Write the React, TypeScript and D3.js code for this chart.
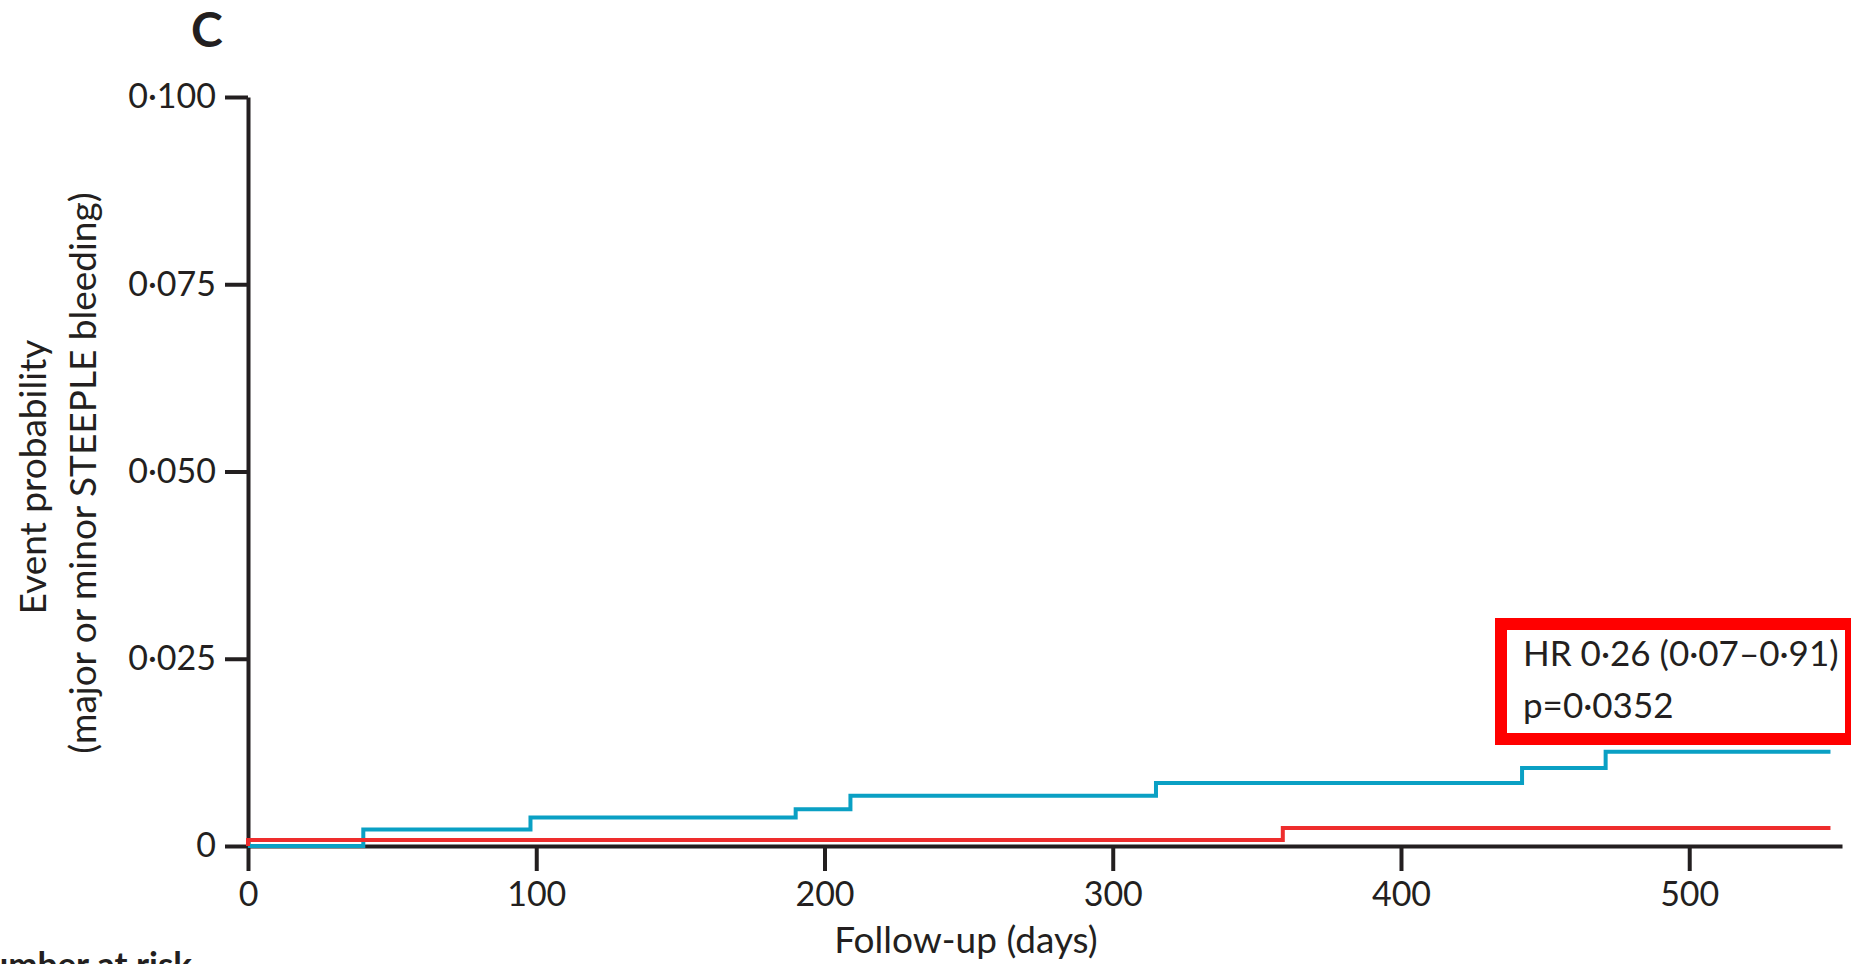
import React, { useRef, useEffect } from 'react';
import * as d3 from 'd3';

// Kaplan-Meier style cumulative event curves
const blueDays = [0, 40, 98, 190, 209, 315, 442, 471, 549];
const blueProb = [0, 0.0022, 0.0038, 0.0049, 0.0067, 0.0084, 0.0104, 0.0126, 0.0126];
const redDays = [0, 0, 359, 549];
const redProb = [0, 0.0008, 0.0024, 0.0024];

const xTicks = [0, 100, 200, 300, 400, 500];
const yTicks = [0, 0.025, 0.05, 0.075, 0.1];

const annotationLines = ['HR 0·26 (0·07–0·91)', 'p=0·0352'];

const W = 1851;
const H = 964;
const FONT = 'Lato, "Open Sans", sans-serif';
const INK = '#231f20';

export default function App() {
  const ref = useRef<SVGSVGElement | null>(null);

  useEffect(() => {
    if (!ref.current) return;
    const svg = d3.select(ref.current);
    svg.selectAll('*').remove();

    const x = d3.scaleLinear().domain([0, 553]).range([248, 1842]);
    const y = d3.scaleLinear().domain([0, 0.1]).range([846, 97]);

    const fmt = (d: number) => (d === 0 ? '0' : d3.format('.3f')(d).replace('.', '·'));

    // y axis
    svg
      .append('g')
      .attr('transform', `translate(${x(0)},0)`)
      .call(d3.axisLeft(y).tickValues(yTicks).tickSize(23).tickSizeOuter(0).tickPadding(9).tickFormat(fmt as any))
      .call((g) => {
        g.selectAll('path, line').attr('stroke', INK).attr('stroke-width', 4);
        g.selectAll('text')
          .attr('fill', INK)
          .style('font-family', FONT)
          .style('font-size', '34px');
      });

    // x axis
    svg
      .append('g')
      .attr('transform', `translate(0,${y(0)})`)
      .call(d3.axisBottom(x).tickValues(xTicks).tickSize(25).tickSizeOuter(0).tickPadding(11))
      .call((g) => {
        g.selectAll('path, line').attr('stroke', INK).attr('stroke-width', 4);
        g.selectAll('text')
          .attr('fill', INK)
          .style('font-family', FONT)
          .style('font-size', '34px');
      });

    const line = d3
      .line<[number, number]>()
      .x((d) => x(d[0]))
      .y((d) => y(d[1]))
      .curve(d3.curveStepAfter);

    const series = [
      { days: blueDays, prob: blueProb, color: '#0aa0c4' },
      { days: redDays, prob: redProb, color: '#ee2d2d' },
    ];
    series.forEach((s) => {
      const pts = s.days.map((d, i) => [d, s.prob[i]] as [number, number]);
      svg
        .append('path')
        .attr('d', line(pts))
        .attr('fill', 'none')
        .attr('stroke', s.color)
        .attr('stroke-width', 4);
    });

    const text = (tx: number, ty: number, str: string, size: number, anchor = 'start') =>
      svg
        .append('text')
        .attr('x', tx)
        .attr('y', ty)
        .attr('text-anchor', anchor)
        .attr('fill', INK)
        .style('font-family', FONT)
        .style('font-size', `${size}px`)
        .text(str);

    // panel letter
    text(207, 47, 'C', 48, 'middle').style('font-weight', 'bold');

    // axis titles
    text(966, 953, 'Follow-up (days)', 37, 'middle');
    text(0, 0, 'Event probability', 37, 'middle').attr('transform', 'translate(46,477) rotate(-90)');
    text(0, 0, '(major or minor STEEPLE bleeding)', 37, 'middle').attr(
      'transform',
      'translate(96,473) rotate(-90)'
    );

    // number at risk (cut off at bottom)
    text(192, 977, 'Number at risk', 35, 'end').style('font-weight', 'bold');

    // annotation box
    svg
      .append('rect')
      .attr('x', 1501)
      .attr('y', 624)
      .attr('width', 350)
      .attr('height', 115)
      .attr('fill', 'white')
      .attr('stroke', '#ff0000')
      .attr('stroke-width', 12);
    annotationLines.forEach((s, i) => text(1523, 666 + i * 52, s, 35));
  }, []);

  return (
    <svg
      ref={ref}
      width={W}
      height={H}
      style={{ position: 'absolute', left: 0, top: 0, background: 'white' }}
    />
  );
}
